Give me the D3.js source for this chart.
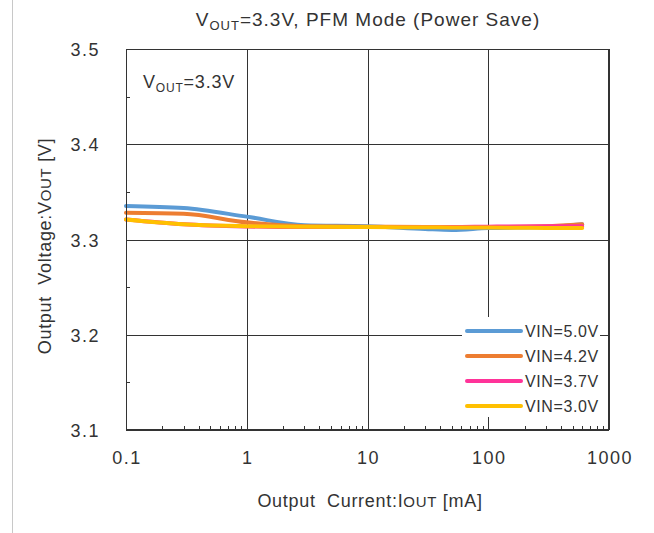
<!DOCTYPE html>
<html>
<head>
<meta charset="utf-8">
<script src="https://cdn.jsdelivr.net/npm/d3@7"></script>
<style>
	body { margin: 0; background: #fff; }
	text { font-family: "Liberation Sans", Arial, sans-serif; fill: #333; white-space: pre; }
</style>
</head>
<body>
<div id="chart"></div>
<script>
// output current points (mA)
const currents = [0.1, 0.3, 1, 3, 10, 30, 50, 100, 300, 600];

const vin50 = [3.3353, 3.333, 3.324, 3.315, 3.314, 3.311, 3.310, 3.312, 3.313, 3.316];
const vin42 = [3.328, 3.327, 3.318, 3.314, 3.3135, 3.313, 3.313, 3.313, 3.314, 3.316];
const vin37 = [3.321, 3.316, 3.3137, 3.313, 3.313, 3.313, 3.313, 3.3135, 3.314, 3.314];
const vin30 = [3.321, 3.316, 3.314, 3.3133, 3.313, 3.3128, 3.3127, 3.3125, 3.3122, 3.312];

const seriesNames = ["VIN=5.0V", "VIN=4.2V", "VIN=3.7V", "VIN=3.0V"];
const seriesColors = ["#5b9bd5", "#ed7d31", "#ff3399", "#ffc000"];

const xTicks = [0.1, 1, 10, 100, 1000];
const yTicks = [3.1, 3.2, 3.3, 3.4, 3.5];
const yMinor = [3.15, 3.25, 3.35, 3.45];

var width = 654,
	height = 533;
var margin = { left: 126, right: 45, top: 49, bottom: 103 };

var svg = d3
	.select("#chart")
	.append("svg")
	.attr("width", width)
	.attr("height", height);

var x = d3.scaleLog().domain([0.1, 1000]).range([margin.left, width - margin.right]);
var y = d3.scaleLinear().domain([3.1, 3.5]).range([height - margin.bottom, margin.top]);

// thin figure border on the left
svg.append("line")
	.attr("x1", 12.5).attr("x2", 12.5)
	.attr("y1", 0).attr("y2", height)
	.attr("stroke", "#c8c8c8");

// gridlines
svg.append("g")
	.selectAll("line")
	.data(xTicks)
	.join("line")
	.attr("x1", (d) => Math.round(x(d)) + 0.5)
	.attr("x2", (d) => Math.round(x(d)) + 0.5)
	.attr("y1", y(3.5))
	.attr("y2", y(3.1))
	.attr("stroke", "#333");

svg.append("g")
	.selectAll("line")
	.data(yTicks)
	.join("line")
	.attr("x1", x(0.1))
	.attr("x2", x(1000))
	.attr("y1", (d) => Math.round(y(d)) + 0.5)
	.attr("y2", (d) => Math.round(y(d)) + 0.5)
	.attr("stroke", "#333");

// minor ticks
var xMinor = [];
[0.1, 1, 10, 100].forEach((dec) => {
	for (let k = 2; k <= 9; k++) xMinor.push(dec * k);
});
svg.append("g")
	.selectAll("line")
	.data(xMinor)
	.join("line")
	.attr("x1", (d) => Math.round(x(d)) + 0.5)
	.attr("x2", (d) => Math.round(x(d)) + 0.5)
	.attr("y1", y(3.1))
	.attr("y2", y(3.1) - 4)
	.attr("stroke", "#333");

svg.append("g")
	.selectAll("line")
	.data(yMinor)
	.join("line")
	.attr("x1", x(0.1))
	.attr("x2", x(0.1) + 4)
	.attr("y1", (d) => Math.round(y(d)) + 0.5)
	.attr("y2", (d) => Math.round(y(d)) + 0.5)
	.attr("stroke", "#333");

// tick labels
svg.append("g")
	.selectAll("text")
	.data(yTicks)
	.join("text")
	.attr("x", x(0.1) - 26)
	.attr("y", (d) => y(d) + 7)
	.attr("text-anchor", "end")
	.style("font-size", "18px")
	.style("letter-spacing", "1.5px")
	.text((d) => d.toFixed(1));

svg.append("g")
	.selectAll("text")
	.data(xTicks)
	.join("text")
	.attr("x", (d) => x(d) + 1)
	.attr("y", y(3.1) + 34)
	.attr("text-anchor", "middle")
	.style("font-size", "18px")
	.style("letter-spacing", "1.5px")
	.text((d) => d);

// series
var allSeries = [vin50, vin42, vin37, vin30];
var line = d3
	.line()
	.x((d, i) => x(currents[i]))
	.y((d) => y(d))
	.curve(d3.curveMonotoneX);

svg.append("g")
	.selectAll("path")
	.data(allSeries)
	.join("path")
	.attr("d", (d) => line(d))
	.attr("fill", "none")
	.attr("stroke", (d, i) => seriesColors[i])
	.attr("stroke-width", 4)
	.attr("stroke-linecap", "round");

// legend
var lg = svg.append("g");
lg.append("rect")
	.attr("x", 462)
	.attr("y", 317)
	.attr("width", 138)
	.attr("height", 100)
	.attr("fill", "#fff");
var item = lg
	.selectAll("g")
	.data(seriesNames)
	.join("g")
	.attr("transform", (d, i) => `translate(467,${331 + i * 25})`);
item.append("line")
	.attr("x1", 0)
	.attr("x2", 54)
	.attr("stroke", (d, i) => seriesColors[i])
	.attr("stroke-width", 4)
	.attr("stroke-linecap", "round");
item.append("text")
	.attr("x", 58)
	.attr("y", 6)
	.style("font-size", "16px")
	.style("letter-spacing", "0.6px")
	.text((d) => d);

// frame
svg.append("rect")
	.attr("x", x(0.1) + 0.5)
	.attr("y", y(3.5) + 0.5)
	.attr("width", x(1000) - x(0.1) - 1)
	.attr("height", y(3.1) - y(3.5) - 1)
	.attr("fill", "none")
	.attr("stroke", "#333");

// title
var title = svg.append("text")
	.attr("x", 368)
	.attr("y", 26)
	.attr("text-anchor", "middle")
	.style("font-size", "19px")
	.style("letter-spacing", "1px");
title.append("tspan").text("V");
title.append("tspan").attr("dy", 4).style("font-size", "13px").text("OUT");
title.append("tspan").attr("dy", -4).text("=3.3V, PFM Mode (Power Save)");

// inner label
var inner = svg.append("text")
	.attr("x", 143)
	.attr("y", 88)
	.style("font-size", "18px")
	.style("letter-spacing", "0.8px");
inner.append("tspan").text("V");
inner.append("tspan").attr("dy", 4).style("font-size", "12px").text("OUT");
inner.append("tspan").attr("dy", -4).text("=3.3V");

// axis titles (the OUT part is set a little smaller, as in the original)
var xTitle = svg.append("text")
	.attr("x", 370)
	.attr("y", 507)
	.attr("text-anchor", "middle")
	.style("font-size", "18px")
	.style("letter-spacing", "0.7px");
xTitle.append("tspan").text("Output  Current:I");
xTitle.append("tspan").style("font-size", "15px").text("OUT");
xTitle.append("tspan").text(" [mA]");

var yTitle = svg.append("text")
	.attr("transform", "translate(51,246) rotate(-90)")
	.attr("text-anchor", "middle")
	.style("font-size", "18px")
	.style("letter-spacing", "0.7px");
yTitle.append("tspan").text("Output  Voltage:V");
yTitle.append("tspan").style("font-size", "15px").text("OUT");
yTitle.append("tspan").text(" [V]");
</script>
</body>
</html>
